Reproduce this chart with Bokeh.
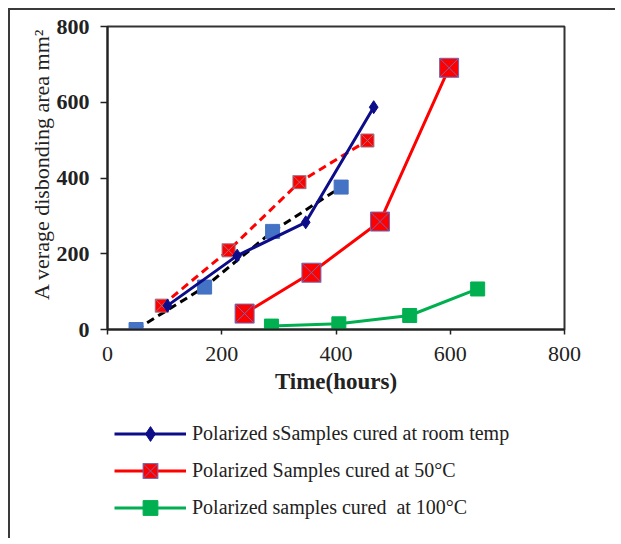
from bokeh.plotting import figure
from bokeh.layouts import column
from bokeh.models import Legend, LegendItem, Range1d, FixedTicker
from bokeh.embed import file_html
from bokeh.resources import INLINE

# Data
room_x = [105, 227, 347, 466]
room_y = [63, 195, 283, 587]

c50_x = [240, 357, 477, 598]
c50_y = [42, 150, 285, 691]

c100_x = [287, 405, 529, 648]
c100_y = [9, 15, 37, 107]

dash_red_x = [95, 212, 336, 455]
dash_red_y = [63, 209, 389, 499]

dash_blue_x = [50, 170, 289, 409]
dash_blue_y = [0, 112, 259, 376]

ticks = [0, 200, 400, 600, 800]

labels = ["Polarized sSamples cured at room temp",
          "Polarized Samples cured at 50\u00b0C",
          "Polarized samples cured  at 100\u00b0C"]

FONT = "Liberation Serif"
NAVY = "#0d0d8a"
RED = "#ff0000"
GREEN = "#00b050"

p = figure(width=605, height=401, output_backend="svg", toolbar_location=None,
           x_range=Range1d(0, 800), y_range=Range1d(0, 800))
p.min_border_left = 97
p.min_border_right = 51
p.min_border_top = 16
p.min_border_bottom = 82

p.xgrid.visible = False
p.ygrid.visible = False
p.outline_line_color = "#333333"
p.outline_line_width = 2
p.background_fill_color = "white"
p.border_fill_color = "white"

for ax in (p.xaxis[0], p.yaxis[0]):
    ax.ticker = FixedTicker(ticks=ticks)
    ax.axis_line_color = "#222222"
    ax.axis_line_width = 2
    ax.major_tick_line_color = "#222222"
    ax.major_tick_line_width = 1.5
    ax.major_tick_in = 0
    ax.minor_tick_line_color = None
    ax.major_label_text_font = FONT
    ax.major_label_text_font_size = "22px"
    ax.major_label_text_color = "#222222"
    ax.axis_label_text_font = FONT
    ax.axis_label_text_color = "#222222"

p.xaxis.major_tick_out = 5
p.yaxis.major_tick_out = 7
p.xaxis.major_label_standoff = 12
p.yaxis.major_label_standoff = 11
p.yaxis.major_label_text_font_style = "bold"
p.xaxis.axis_label = "Time(hours)"
p.xaxis.axis_label_text_font_style = "bold"
p.xaxis.axis_label_text_font_size = "23px"
p.xaxis.axis_label_standoff = 5
p.yaxis.axis_label = "\u00a0\u00a0\u00a0\u00a0\u00a0A verage disbonding area mm\u00b2"
p.yaxis.axis_label_text_font_style = "normal"
p.yaxis.axis_label_text_font_size = "22px"
p.yaxis.axis_label_standoff = 0

# black dashed series with light blue squares
p.line(dash_blue_x, dash_blue_y, line_color="black", line_width=3, line_dash="8 5")
p.scatter(dash_blue_x, dash_blue_y, marker="square", size=14, fill_color="#4472c4", line_color="#4472c4")

# red dashed series
p.line(dash_red_x, dash_red_y, line_color=RED, line_width=3, line_dash="8 5")
p.scatter(dash_red_x, dash_red_y, marker="square_x", size=13, fill_color=RED,
          line_color="#a07080", line_width=1)

# room temperature
p.line(room_x, room_y, line_color=NAVY, line_width=3)
p.scatter(room_x, room_y, marker="diamond", size=13, fill_color=NAVY, line_color=NAVY)

# 50 C
p.line(c50_x, c50_y, line_color=RED, line_width=3)
p.scatter(c50_x, c50_y, marker="square_x", size=19, fill_color=RED,
          line_color="#6e6ab8", line_width=1)

# 100 C
p.line(c100_x, c100_y, line_color=GREEN, line_width=3)
p.scatter(c100_x, c100_y, marker="square", size=14, fill_color=GREEN, line_color=GREEN)

# Legend panel (a second figure whose renderers lie outside its view)
q = figure(width=605, height=127, output_backend="svg", toolbar_location=None,
           x_range=Range1d(-2000, -1900), y_range=Range1d(-2000, -1900),
           x_axis_location=None, y_axis_location=None)
q.min_border_left = 97
q.min_border_right = 0
q.min_border_top = 0
q.min_border_bottom = 0
q.xgrid.visible = False
q.ygrid.visible = False
q.outline_line_color = None
q.background_fill_color = "white"
q.border_fill_color = "white"

l1 = q.line(room_x, room_y, line_color=NAVY, line_width=3)
m1 = q.scatter(room_x, room_y, marker="diamond", size=13, fill_color=NAVY, line_color=NAVY)
l2 = q.line(c50_x, c50_y, line_color=RED, line_width=3)
m2 = q.scatter(c50_x, c50_y, marker="square_x", size=17, fill_color=RED,
               line_color="#6e6ab8", line_width=1)
l3 = q.line(c100_x, c100_y, line_color=GREEN, line_width=3)
m3 = q.scatter(c100_x, c100_y, marker="square", size=13, fill_color=GREEN, line_color=GREEN)

legend = Legend(items=[LegendItem(label=labels[0], renderers=[l1, m1]),
                       LegendItem(label=labels[1], renderers=[l2, m2]),
                       LegendItem(label=labels[2], renderers=[l3, m3])],
                location=(7, 12))
legend.glyph_width = 72
legend.glyph_height = 37
legend.label_height = 37
legend.spacing = 0
legend.padding = 0
legend.margin = 0
legend.label_standoff = 6
legend.border_line_color = None
legend.background_fill_alpha = 0
legend.label_text_font = FONT
legend.label_text_font_size = "20px"
legend.label_text_color = "#222222"
q.add_layout(legend, "center")

layout = column(p, q, spacing=0)
layout.styles = {"margin-left": "8px", "margin-top": "8px",
                 "border-left": "2px solid #3a3a3a", "border-top": "2px solid #3a3a3a"}

open("out.html", "w").write(file_html(layout, INLINE))
